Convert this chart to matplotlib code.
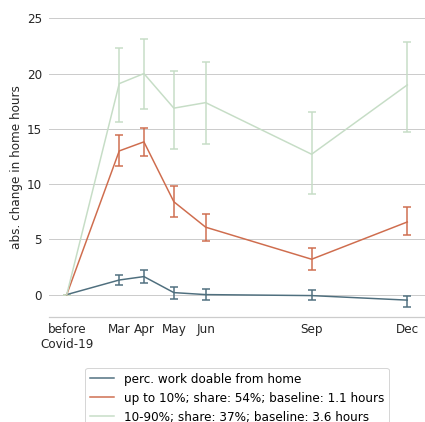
import matplotlib
matplotlib.use("Agg")
import matplotlib.pyplot as plt

# survey waves as day of year (2020); first point is the pre-pandemic baseline
days = [30, 80, 103.5, 132, 162.3, 263.2, 354.3]
tick_labels = ["before\nCovid-19", "Mar", "Apr", "May", "Jun", "Sep", "Dec"]

labels = [
    "perc. work doable from home",
    "up to 10%; share: 54%; baseline: 1.1 hours",
    "10-90%; share: 37%; baseline: 3.6 hours",
]

# mean change and confidence bounds
blue_mean = [0, 1.32, 1.63, 0.18, 0.0, -0.09, -0.5]
blue_low = [0, 0.87, 1.05, -0.42, -0.48, -0.45, -1.08]
blue_high = [0, 1.78, 2.24, 0.67, 0.48, 0.40, -0.09]

red_mean = [0, 13.0, 13.82, 8.4, 6.1, 3.2, 6.57]
red_low = [0, 11.65, 12.53, 7.0, 4.87, 2.2, 5.37]
red_high = [0, 14.4, 15.1, 9.8, 7.25, 4.25, 7.95]

green_mean = [0, 19.09, 20.0, 16.87, 17.37, 12.7, 18.97]
green_low = [0, 15.65, 16.8, 13.16, 13.6, 9.06, 14.7]
green_high = [0, 22.3, 23.1, 20.26, 21.07, 16.56, 22.88]

colors = ["#4f6f7e", "#cf6d4e", "#c6ddc6"]

fig = plt.figure(figsize=(425 / 72, 422 / 72), dpi=72)
ax = fig.add_axes([49 / 425, 1 - 316.7 / 422, 1 - 49 / 425, (316.7 - 18.3) / 422])

series = [
    (blue_mean, blue_low, blue_high),
    (red_mean, red_low, red_high),
    (green_mean, green_low, green_high),
]
for (mean, low, high), col, lab in zip(series, colors, labels):
    yerr = [[m - l for m, l in zip(mean, low)], [h - m for m, h in zip(mean, high)]]
    ax.errorbar(days, mean, yerr=yerr, color=col, lw=1.5, elinewidth=1.5,
                capsize=4, capthick=1.5, label=lab)

ax.set_xlim(days[0] - 16.9, days[-1] + 16.9)
ax.set_ylim(-2, 25)
ax.set_yticks([0, 5, 10, 15, 20, 25])
ax.set_xticks(days)
ax.set_xticklabels(tick_labels)
ax.set_ylabel("abs. change in home hours", fontsize=12, color="#262626")

ax.grid(axis="y", color="#cccccc", lw=1)
ax.set_axisbelow(True)
for side in ["top", "right", "left"]:
    ax.spines[side].set_visible(False)
ax.spines["bottom"].set_color("#cccccc")
ax.spines["bottom"].set_linewidth(1.25)
ax.tick_params(axis="both", length=0, labelsize=12, colors="#262626")
ax.tick_params(axis="y", pad=7)
ax.tick_params(axis="x", pad=6)

handles, labs = ax.get_legend_handles_labels()
handles = [h[0] for h in handles]
leg = ax.legend(handles, labs, loc="upper center", bbox_to_anchor=(0.5, -0.171),
                borderaxespad=0, fontsize=12, frameon=True)
leg.get_frame().set_edgecolor("#cccccc")

fig.savefig("out.png", dpi=72)
